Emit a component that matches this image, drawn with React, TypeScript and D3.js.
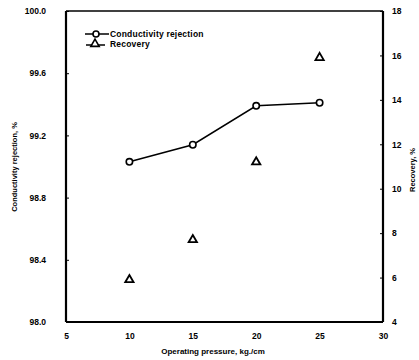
import React, { useRef, useEffect } from 'react';
import * as d3 from 'd3';

const pressure = [10, 15, 20, 25];
const rejection = [99.03, 99.14, 99.39, 99.41];
const recovery = [5.9, 7.7, 11.2, 15.9];
const xTicks = [5, 10, 15, 20, 25, 30];
const leftTicks = [98.0, 98.4, 98.8, 99.2, 99.6, 100.0];
const rightTicks = [4, 6, 8, 10, 12, 14, 16, 18];

const App = () => {
  const svgRef = useRef<SVGSVGElement>(null);

  useEffect(() => {
    const svg = d3.select(svgRef.current);
    svg.selectAll('*').remove();

    const margin = { top: 11, right: 36, bottom: 38, left: 66 };
    const W = 419, H = 360;
    const width = W - margin.left - margin.right;
    const height = H - margin.top - margin.bottom;
    const font = 'Liberation Sans, Arial, sans-serif';

    const g = svg.append('g').attr('transform', `translate(${margin.left},${margin.top})`);

    const x = d3.scaleLinear().domain([5, 30]).range([0, width]);
    const yL = d3.scaleLinear().domain([98, 100]).range([height, 0]);
    const yR = d3.scaleLinear().domain([4, 18]).range([height, 0]);

    const styleAxis = (sel) => {
      sel.select('.domain').remove();
      sel.selectAll('.tick line').attr('stroke', '#000').attr('stroke-width', 1);
      sel.selectAll('.tick text')
        .attr('font-family', font)
        .attr('font-weight', 'bold')
        .attr('font-size', 8.5)
        .attr('fill', '#000');
    };

    g.append('g')
      .attr('transform', `translate(0,${height})`)
      .call(d3.axisBottom(x).tickValues(xTicks).tickSize(0).tickPadding(11).tickFormat(d3.format('d')))
      .call(styleAxis);

    g.append('g')
      .call(d3.axisLeft(yL).tickValues(leftTicks).tickSize(-3).tickPadding(20).tickFormat(d3.format('.1f')))
      .call(styleAxis);

    g.append('g')
      .attr('transform', `translate(${width},0)`)
      .call(d3.axisRight(yR).tickValues(rightTicks).tickSize(-3).tickPadding(9).tickFormat(d3.format('d')))
      .call(styleAxis);

    // frame
    g.append('line').attr('x1', 0).attr('x2', width).attr('y1', 0).attr('y2', 0)
      .attr('stroke', '#000').attr('stroke-width', 1.5);
    g.append('line').attr('x1', 0).attr('x2', width).attr('y1', height).attr('y2', height)
      .attr('stroke', '#000').attr('stroke-width', 2.2);
    g.append('line').attr('x1', 0).attr('x2', 0).attr('y1', 0).attr('y2', height)
      .attr('stroke', '#000').attr('stroke-width', 2.2);
    g.append('line').attr('x1', width).attr('x2', width).attr('y1', 0).attr('y2', height)
      .attr('stroke', '#000').attr('stroke-width', 2.2);

    // rejection line
    const line = d3.line<number>()
      .x((d, i) => x(pressure[i]))
      .y(d => yL(d));

    g.append('path')
      .datum(rejection)
      .attr('fill', 'none')
      .attr('stroke', '#000')
      .attr('stroke-width', 1.5)
      .attr('d', line);

    g.selectAll('.circ')
      .data(rejection)
      .enter().append('circle')
      .attr('cx', (d, i) => x(pressure[i]))
      .attr('cy', d => yL(d))
      .attr('r', 3.2)
      .attr('fill', '#fff')
      .attr('stroke', '#000')
      .attr('stroke-width', 1.6);

    const tri = d3.symbol().type(d3.symbolTriangle).size(30);
    g.selectAll('.tri')
      .data(recovery)
      .enter().append('path')
      .attr('d', tri)
      .attr('transform', (d, i) => `translate(${x(pressure[i])},${yR(d)})`)
      .attr('fill', '#fff')
      .attr('stroke', '#000')
      .attr('stroke-width', 1.8);

    // legend
    const leg = svg.append('g');
    leg.append('line').attr('x1', 85).attr('x2', 109).attr('y1', 34).attr('y2', 34)
      .attr('stroke', '#000').attr('stroke-width', 1.5);
    leg.append('circle').attr('cx', 96).attr('cy', 34).attr('r', 3)
      .attr('fill', '#fff').attr('stroke', '#000').attr('stroke-width', 1.6);
    leg.append('text').attr('x', 110).attr('y', 37).text('Conductivity rejection')
      .attr('font-family', font).attr('font-weight', 'bold').attr('font-size', 8.5)
      .attr('letter-spacing', 0.2);
    leg.append('line').attr('x1', 86).attr('x2', 105).attr('y1', 45).attr('y2', 45)
      .attr('stroke', '#000').attr('stroke-width', 1.5);
    leg.append('path').attr('d', tri).attr('transform', 'translate(95,44)')
      .attr('fill', '#fff').attr('stroke', '#000').attr('stroke-width', 1.6);
    leg.append('text').attr('x', 110).attr('y', 47).text('Recovery')
      .attr('font-family', font).attr('font-weight', 'bold').attr('font-size', 8.5)
      .attr('letter-spacing', 0.2);

    // axis labels
    svg.append('text')
      .attr('text-anchor', 'middle')
      .attr('x', 213)
      .attr('y', 354)
      .attr('font-family', font).attr('font-weight', 'bold').attr('font-size', 8)
      .text('Operating pressure, kg./cm');

    svg.append('text')
      .attr('text-anchor', 'middle')
      .attr('transform', 'translate(17,167) rotate(-90)')
      .attr('font-family', font).attr('font-weight', 'bold').attr('font-size', 7.5)
      .text('Conductivity rejection, %');

    svg.append('text')
      .attr('text-anchor', 'middle')
      .attr('transform', 'translate(415,170) rotate(-90)')
      .attr('font-family', font).attr('font-weight', 'bold').attr('font-size', 7.5)
      .text('Recovery, %');
  }, []);

  return (
    <svg ref={svgRef} width="419" height="360" style={{ position: 'absolute', left: 0, top: 0, background: '#fff' }}></svg>
  );
};

export default App;
